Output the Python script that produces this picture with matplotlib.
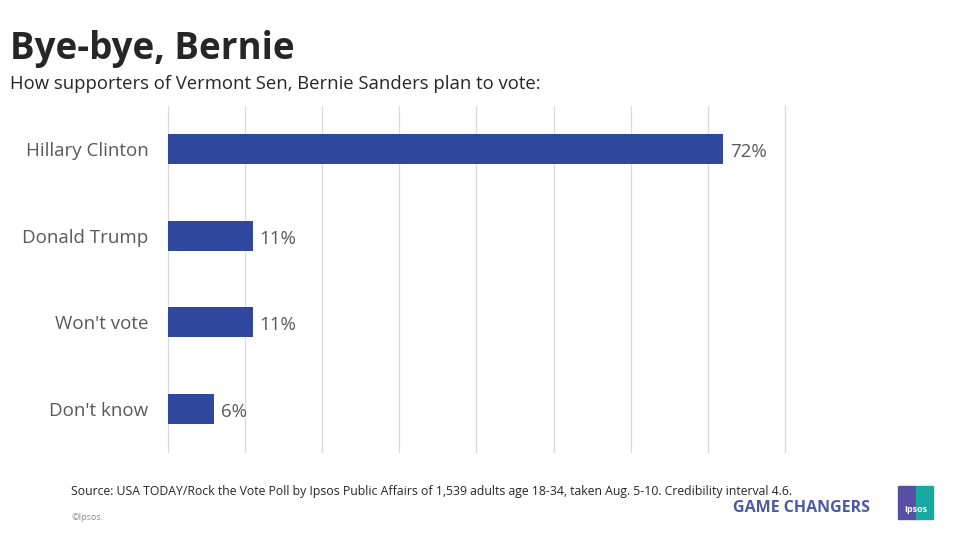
import matplotlib
matplotlib.use("Agg")
import matplotlib.pyplot as plt
from matplotlib.patches import Rectangle

CATEGORIES = ["Hillary Clinton", "Donald Trump", "Won't vote", "Don't know"]
VALUES = [72, 11, 11, 6]
X_MAX = 80
GRID_STEP = 10

BAR_COLOR = "#2F479D"
TEXT_GREY = "#595959"
GRID_GREY = "#D9D9D9"

W, H = 960, 540
plt.rcParams["font.family"] = ["Open Sans", "DejaVu Sans"]

fig = plt.figure(figsize=(W / 100, H / 100), dpi=100)

# axes placed in pixel terms: x 168..785, y 106..452
ax = fig.add_axes([168 / W, 1 - 452 / H, (785 - 168) / W, (452 - 106) / H])

ypos = list(range(len(CATEGORIES)))
ax.barh(ypos, VALUES, height=0.35, color=BAR_COLOR, zorder=3)
ax.set_ylim(len(CATEGORIES) - 0.5, -0.5)
ax.set_xlim(0, X_MAX)
ax.set_xticks(range(0, X_MAX + 1, GRID_STEP))
ax.xaxis.grid(True, color=GRID_GREY, linewidth=0.9, zorder=0)
for gl in ax.get_xgridlines():
    gl.set_clip_on(False)
ax.tick_params(axis="x", length=0, labelbottom=False)
ax.tick_params(axis="y", length=0, pad=14, labelsize=13.5, labelcolor=TEXT_GREY)
ax.set_yticks(ypos)
ax.set_yticklabels(CATEGORIES)
for side in ["top", "right", "bottom", "left"]:
    ax.spines[side].set_visible(False)

for y, v in zip(ypos, VALUES):
    ax.annotate(f"{v}%", xy=(v, y), xytext=(5, -2), textcoords="offset points",
                va="center", ha="left", fontsize=13.5, color=TEXT_GREY)

fig.text(10 / W, 1 - 49 / H, "Bye-bye, Bernie", fontsize=26.5, fontweight="bold",
         color="#262626", va="center", ha="left")
fig.text(10 / W, 1 - 84 / H, "How supporters of Vermont Sen, Bernie Sanders plan to vote:",
         fontsize=13.3, color="#262626", va="center", ha="left")

fig.text(71 / W, 1 - 492 / H,
         "Source: USA TODAY/Rock the Vote Poll by Ipsos Public Affairs of 1,539 adults age 18-34, "
         "taken Aug. 5-10. Credibility interval 4.6.",
         fontsize=8.8, color="#262626", va="center", ha="left")
fig.text(71 / W, 1 - 518 / H, "\u00a9Ipsos.", fontsize=6.5, color="#8C8C8C",
         va="center", ha="left")

fig.text(870 / W, 1 - 508 / H, "GAME CHANGERS", fontsize=11.5, fontweight="bold",
         color="#4B5AA8", va="center", ha="right")

# Ipsos logo block
fig.patches.append(Rectangle((898 / W, 1 - 519 / H), 18 / W, 33 / H,
                             transform=fig.transFigure, color="#574FA3"))
fig.patches.append(Rectangle((916 / W, 1 - 519 / H), 17 / W, 33 / H,
                             transform=fig.transFigure, color="#17A99E"))
fig.text(915.5 / W, 1 - 510 / H, "Ipsos", fontsize=6.5, fontweight="bold",
         color="white", va="center", ha="center")

fig.savefig("out.png", dpi=100)
